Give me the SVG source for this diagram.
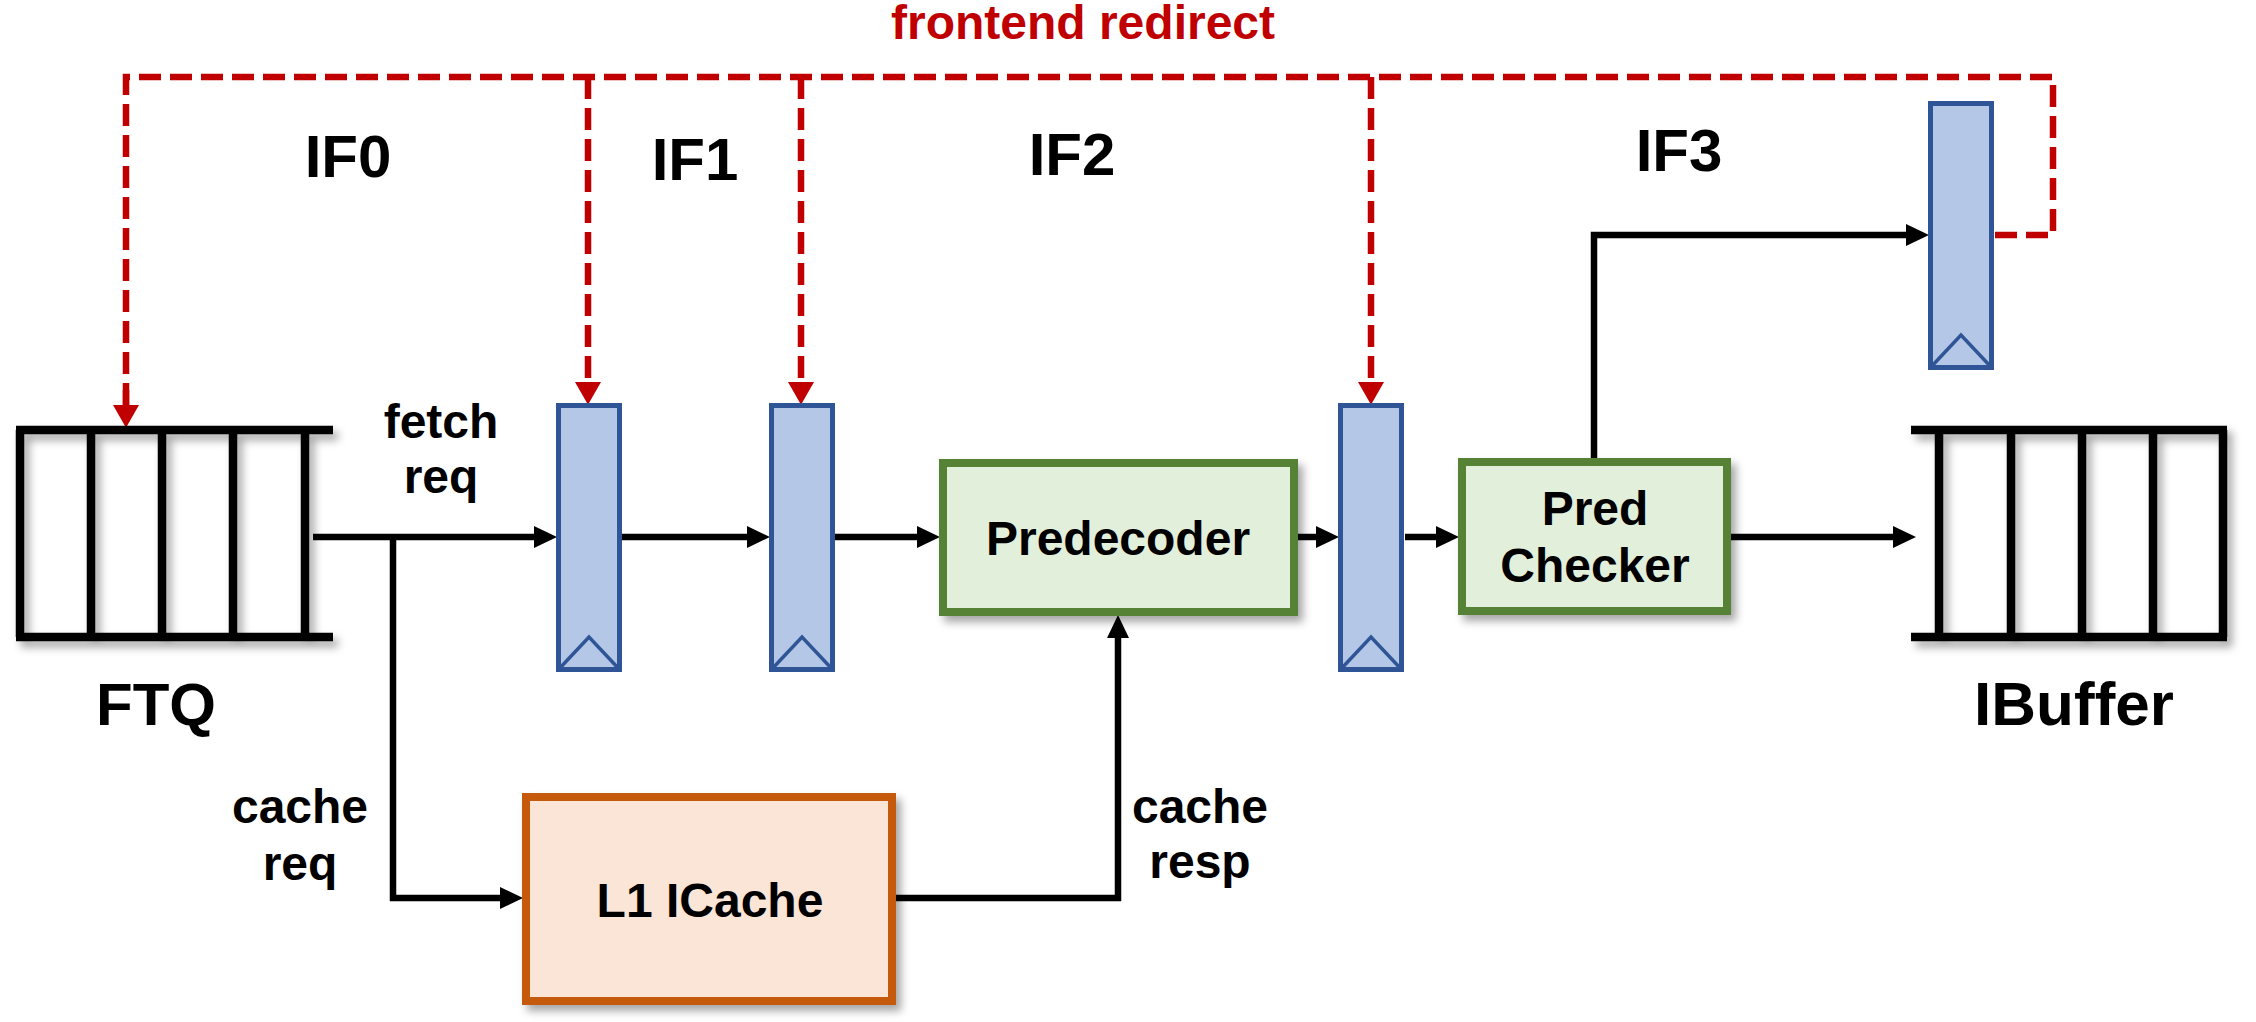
<svg xmlns="http://www.w3.org/2000/svg" width="2256" height="1022" viewBox="0 0 2256 1022">
<defs>
<style>
text{font-family:"Liberation Sans",Arial,sans-serif;font-weight:bold;fill:#000}
.lbl{font-size:48px;text-anchor:middle}
.big{font-size:60px;text-anchor:middle}
.red{fill:#C00000;font-size:48px;text-anchor:middle}
.reg{fill:#B4C7E7;stroke:#2F5597;stroke-width:5}
.clk{fill:none;stroke:#2F5597;stroke-width:3.5}
.q{stroke:#000;stroke-width:8.5;fill:none}
.gbox{fill:#E2EFDA;stroke:#548235;stroke-width:8}
.obox{fill:#FBE5D6;stroke:#C55A11;stroke-width:8}
.wire{fill:none;stroke:#000;stroke-width:6.5}
.dash{fill:none;stroke:#C00000;stroke-width:6.5;stroke-dasharray:22 9}
</style>
<filter id="sh" x="-10%" y="-10%" width="130%" height="130%">
<feDropShadow dx="5" dy="6" stdDeviation="4" flood-color="#000" flood-opacity="0.35"/>
</filter>
<marker id="ab" markerUnits="userSpaceOnUse" markerWidth="24" markerHeight="24" refX="0" refY="11" orient="auto" viewBox="0 0 24 22">
<path d="M0,0 L23,11 L0,22 z" fill="#000"/>
</marker>
<marker id="ar" markerUnits="userSpaceOnUse" markerWidth="24" markerHeight="26" refX="0" refY="12" orient="auto" viewBox="0 0 22 24">
<path d="M0,0 L21,12 L0,24 z" fill="#C00000"/>
</marker>
</defs>

<g id="labels">
<text class="red" x="1083" y="39">frontend redirect</text>
<text class="big" x="348" y="177">IF0</text>
<text class="big" x="695" y="180">IF1</text>
<text class="big" x="1072" y="175">IF2</text>
<text class="big" x="1679" y="171">IF3</text>
<text class="lbl" x="441" y="438">fetch</text>
<text class="lbl" x="441" y="493">req</text>
<text class="lbl" x="300" y="823">cache</text>
<text class="lbl" x="300" y="880">req</text>
<text class="lbl" x="1200" y="823">cache</text>
<text class="lbl" x="1200" y="878">resp</text>
</g>

<g id="connectors">
<path class="dash" d="M1995,235 H2053 V77 H126 V405"/>
<path class="dash" d="M588,77 V382" marker-end="url(#ar)"/>
<path class="dash" d="M801,77 V382" marker-end="url(#ar)"/>
<path class="dash" d="M1371,77 V382" marker-end="url(#ar)"/>
<path class="dash" d="M126,390 V405" marker-end="url(#ar)"/>
<path class="wire" d="M313,537 H534" marker-end="url(#ab)"/>
<path class="wire" d="M393,537 V898 H500" marker-end="url(#ab)"/>
<path class="wire" d="M622,537 H747" marker-end="url(#ab)"/>
<path class="wire" d="M835,537 H917" marker-end="url(#ab)"/>
<path class="wire" d="M1298,537 H1316" marker-end="url(#ab)"/>
<path class="wire" d="M1405,537 H1436" marker-end="url(#ab)"/>
<path class="wire" d="M1731,537 H1893" marker-end="url(#ab)"/>
<path class="wire" d="M1594,458 V235 H1906" marker-end="url(#ab)"/>
<path class="wire" d="M896,898 H1118 V638" marker-end="url(#ab)"/>
</g>

<g id="ftq">
<path class="q" filter="url(#sh)" d="M16,430 H333 M16,637 H333 M20,430 V637 M91,430 V637 M162,430 V637 M233,430 V637 M305,430 V637"/>
<text class="big" x="156" y="725">FTQ</text>
</g>

<g id="ibuffer">
<path class="q" filter="url(#sh)" d="M1911,430 H2227 M1911,637 H2227 M1939,430 V637 M2011,430 V637 M2082,430 V637 M2153,430 V637 M2223,430 V637"/>
<text class="big" x="2074" y="725" style="font-size:62px">IBuffer</text>
</g>

<g id="reg-if0">
<rect class="reg" x="558.5" y="405.5" width="61" height="264"/>
<path class="clk" d="M558.5,669.5 L589,637 L619.5,669.5"/>
</g>
<g id="reg-if1">
<rect class="reg" x="771.5" y="405.5" width="61" height="264"/>
<path class="clk" d="M771.5,669.5 L802,637 L832.5,669.5"/>
</g>
<g id="reg-if2">
<rect class="reg" x="1340.5" y="405.5" width="61" height="264"/>
<path class="clk" d="M1340.5,669.5 L1371,637 L1401.5,669.5"/>
</g>
<g id="reg-if3">
<rect class="reg" x="1930.5" y="103.5" width="61" height="264"/>
<path class="clk" d="M1930.5,367.5 L1961,335 L1991.5,367.5"/>
</g>

<g id="predecoder">
<rect class="gbox" filter="url(#sh)" x="943" y="463" width="351" height="149"/>
<text class="lbl" x="1118" y="555">Predecoder</text>
</g>

<g id="predchecker">
<rect class="gbox" filter="url(#sh)" x="1462" y="462" width="265" height="149"/>
<text class="lbl" x="1595" y="525">Pred</text>
<text class="lbl" x="1595" y="582">Checker</text>
</g>

<g id="icache">
<rect class="obox" filter="url(#sh)" x="526" y="797" width="366" height="204"/>
<text class="lbl" x="710" y="917">L1 ICache</text>
</g>
</svg>
